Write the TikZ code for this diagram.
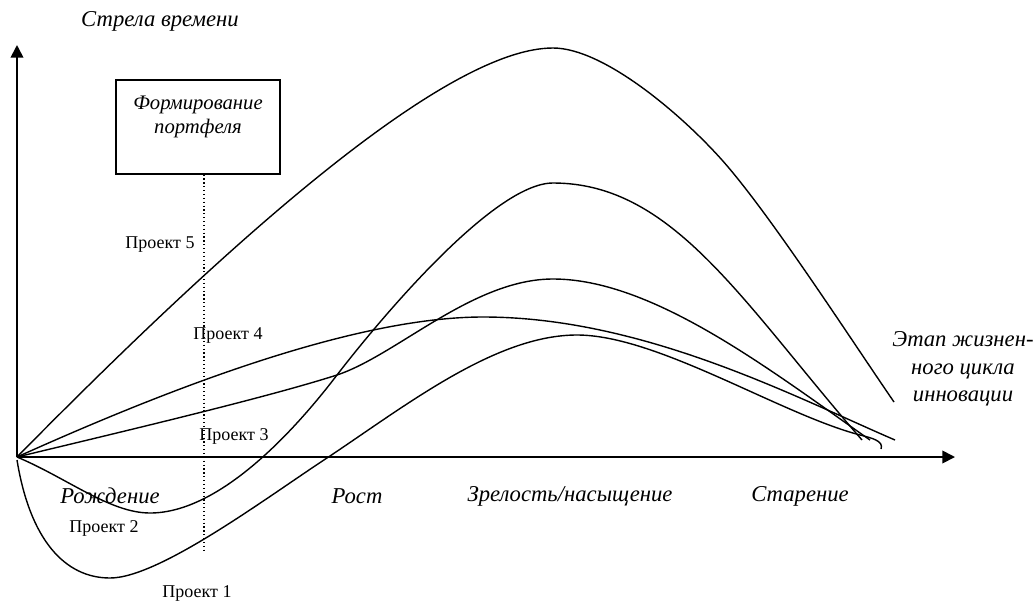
\documentclass[tikz,border=0pt]{standalone}
\usepackage{fontspec}
\setmainfont{Liberation Serif}
\usepackage{tikz}
\usetikzlibrary{arrows.meta, positioning, calc}
\tikzset{
    axis/.style={line width=1.3pt, -{Triangle[length=9.5pt, width=9.5pt]}},
    curve/.style={line width=1.05pt},
    timeline/.style={line width=0.9pt, dotted},
    portfbox/.style={draw, line width=0.9pt, rectangle, minimum width=123pt, minimum height=70.5pt, inner sep=0pt, align=center, font=\fontsize{15.5}{18.5}\selectfont\itshape},
    phaselabel/.style={font=\fontsize{17}{20.5}\selectfont\itshape, align=center, inner sep=0pt},
    projlabel/.style={font=\fontsize{13.5}{15}\selectfont, inner sep=0pt},
}

\begin{document}
\begin{tikzpicture}[x=0.75pt, y=-0.75pt]
            \useasboundingbox (0,0) rectangle (1035,604);

            % Axes
            \coordinate (O) at (17,457);
            \coordinate (ytip) at (17,45);
            \coordinate (xtip) at (955,457);
            \draw[axis] (O) -- (ytip);
            \draw[axis] (O) -- (xtip);

            \node[phaselabel] (timearrow) at (160,21) {Стрела времени};
            \node[phaselabel] (stage) at (963,369) {Этап жизнен-\\ного цикла\\инновации};

            % Portfolio
            \node[portfbox] (portf) at (198,127) {Формирование\\портфеля\\ \mbox{}};
            \coordinate (dotend) at (204,552);
            \draw[timeline] (dotend |- portf.south) -- (dotend);

            % Phases
            \node[phaselabel] (birth) at (110,496) {Рождение};
            \node[phaselabel] (growth) at (357,496) {Рост};
            \node[phaselabel] (mature) at (570,496) {Зрелость/насыщение};
            \node[phaselabel] (aging) at (800,496) {Старение};

            % Project 5
            \draw[curve] (O) .. controls (219,252) and (443,48) .. (553,48)
                .. controls (603,48) and (680,113) .. (722,160)
                .. controls (770,214) and (850,338) .. (894,402);
            % Project 4
            \draw[curve] (O) .. controls (167,389.5) and (353,317) .. (483,317)
                .. controls (643,317) and (795,397) .. (895,440);
            % Project 3
            \draw[curve] (O) .. controls (125,431) and (265,398) .. (337,375)
                .. controls (397,355) and (473,279) .. (553,279)
                .. controls (653,279) and (770,370) .. (870,440);
            % Project 2
            \draw[curve] (O) .. controls (67,478) and (110,513) .. (150,513)
                .. controls (220,513) and (295,430) .. (337,375)
                .. controls (377,323) and (493,183) .. (553,183)
                .. controls (673,183) and (742,302) .. (862,440);
            % Project 1
            \draw[curve] (17,460) .. controls (30,540) and (65,578) .. (110,578)
                .. controls (160,578) and (270,495) .. (330,456)
                .. controls (410,402.4) and (497,335) .. (577,335)
                .. controls (657,335) and (780,414) .. (860,435)
                .. controls (872,438) and (884,441) .. (881,449);

            \node[projlabel] (p5) at (160,245) {Проект 5};
            \node[projlabel] (p4) at (228,335) {Проект 4};
            \node[projlabel] (p3) at (234,436) {Проект 3};
            \node[projlabel] (p2) at (104,528) {Проект 2};
            \node[projlabel] (p1) at (197,593) {Проект 1};
        \end{tikzpicture}
\end{document}
